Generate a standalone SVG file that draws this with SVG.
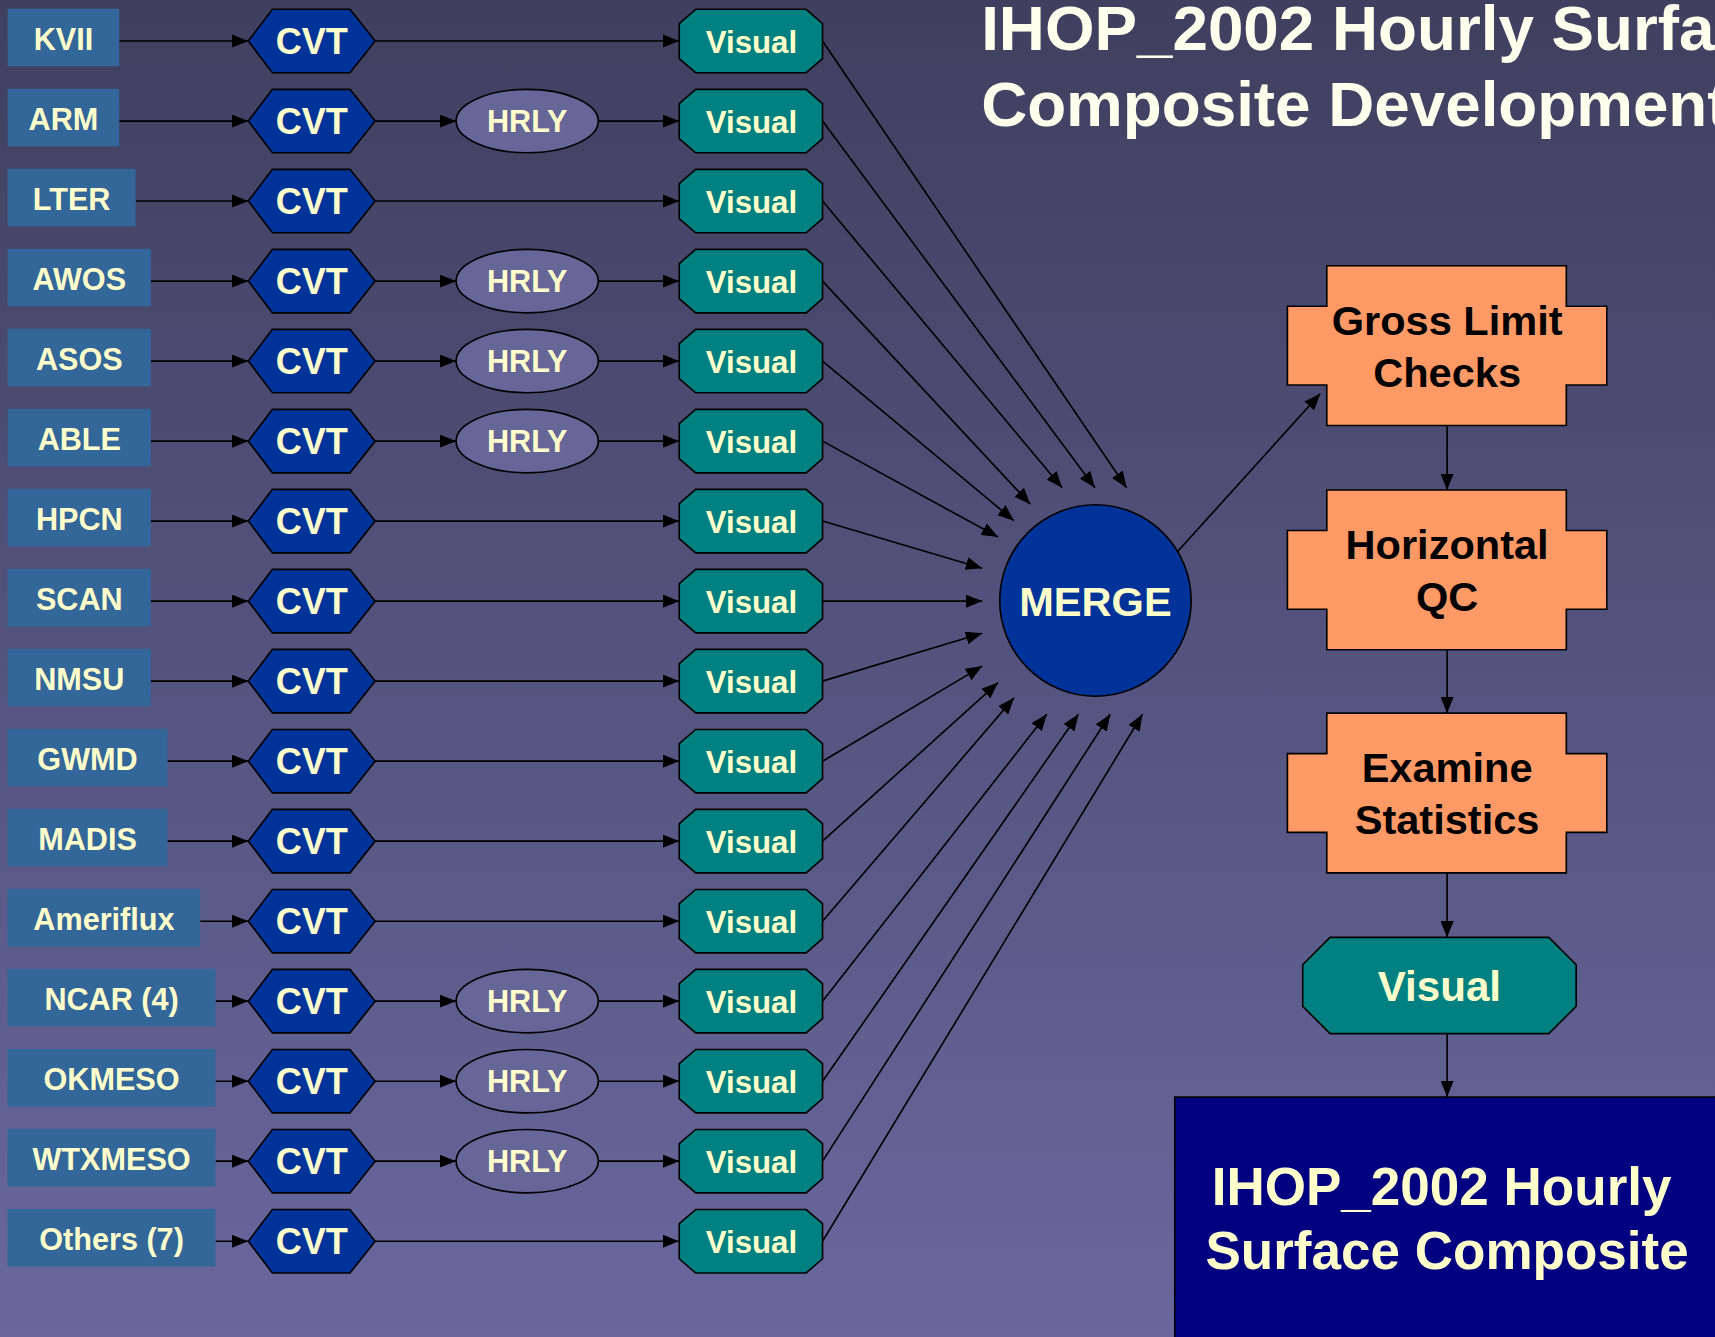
<svg xmlns="http://www.w3.org/2000/svg" width="1715" height="1337" viewBox="0 0 1715 1337">
<defs>
<linearGradient id="bg" x1="0" y1="0" x2="0" y2="1">
<stop offset="0" stop-color="#3f3f5f"/>
<stop offset="1" stop-color="#68689e"/>
</linearGradient>
<marker id="ah" markerUnits="userSpaceOnUse" markerWidth="15" markerHeight="12" refX="15" refY="6" orient="auto" viewBox="0 0 15 12">
<path d="M0,0 L15,6 L0,12 z" fill="#000"/>
</marker>
<polygon id="cvt" points="227,0 249,-29 320,-29 343,0 320,29 249,29"/>
<polygon id="vis" points="621,-16 636,-29 737,-29 752,-16 752,16 737,29 636,29 621,16"/>
<polygon id="cross" points="1213,243 1432,243 1432,280 1469,280 1469,352 1432,352 1432,389 1213,389 1213,352 1177,352 1177,280 1213,280"/>
</defs>
<style>
.t{font-family:"Liberation Sans",Arial,Helvetica,sans-serif;font-weight:bold;text-anchor:middle}
.src rect{fill:#336699}
.src text{fill:#ffffcc;font-size:28px}
.cvt use{fill:#003399;stroke:#000;stroke-width:1.5}
.cvt text{fill:#ffffcc;font-size:33px}
.hrly ellipse{fill:#666699;stroke:#000;stroke-width:1.5}
.hrly text{fill:#ffffcc;font-size:28px}
.vis use{fill:#008080;stroke:#000;stroke-width:1.5}
.vis text{fill:#ffffcc;font-size:28.5px}
.qc use{fill:#ff9966;stroke:#000;stroke-width:1.5}
.qc text{fill:#000;font-size:38px}
#connectors line{stroke:#000;stroke-width:1.5;marker-end:url(#ah)}
</style>
<rect x="0" y="0" width="1715" height="1337" fill="url(#bg)"/>
<g transform="scale(1.0938)">
<g id="title" class="t" style="text-anchor:start" fill="#ffffee" font-size="58.3">
<text x="897" y="46">IHOP_2002 Hourly Surface</text>
<text x="897" y="115">Composite Development</text>
</g>

<g id="connectors">
<line x1="109" y1="37.5" x2="227" y2="37.5"/>
<line x1="343" y1="37.5" x2="621" y2="37.5"/>
<line x1="752" y1="37.5" x2="1030" y2="446"/>

<line x1="109" y1="110.7" x2="227" y2="110.7"/>
<line x1="343" y1="110.7" x2="417" y2="110.7"/>
<line x1="547" y1="110.7" x2="621" y2="110.7"/>
<line x1="752" y1="110.7" x2="1001" y2="446"/>

<line x1="124" y1="183.8" x2="227" y2="183.8"/>
<line x1="343" y1="183.8" x2="621" y2="183.8"/>
<line x1="752" y1="183.8" x2="971" y2="446"/>

<line x1="138" y1="257" x2="227" y2="257"/>
<line x1="343" y1="257" x2="417" y2="257"/>
<line x1="547" y1="257" x2="621" y2="257"/>
<line x1="752" y1="257" x2="942" y2="461"/>

<line x1="138" y1="330.1" x2="227" y2="330.1"/>
<line x1="343" y1="330.1" x2="417" y2="330.1"/>
<line x1="547" y1="330.1" x2="621" y2="330.1"/>
<line x1="752" y1="330.1" x2="927" y2="476"/>

<line x1="138" y1="403.3" x2="227" y2="403.3"/>
<line x1="343" y1="403.3" x2="417" y2="403.3"/>
<line x1="547" y1="403.3" x2="621" y2="403.3"/>
<line x1="752" y1="403.3" x2="912.5" y2="491"/>

<line x1="138" y1="476.4" x2="227" y2="476.4"/>
<line x1="343" y1="476.4" x2="621" y2="476.4"/>
<line x1="752" y1="476.4" x2="898" y2="519.5"/>

<line x1="138" y1="549.6" x2="227" y2="549.6"/>
<line x1="343" y1="549.6" x2="621" y2="549.6"/>
<line x1="752" y1="549.6" x2="898" y2="549.6"/>

<line x1="138" y1="622.7" x2="227" y2="622.7"/>
<line x1="343" y1="622.7" x2="621" y2="622.7"/>
<line x1="752" y1="622.7" x2="898" y2="579"/>

<line x1="153" y1="695.9" x2="227" y2="695.9"/>
<line x1="343" y1="695.9" x2="621" y2="695.9"/>
<line x1="752" y1="695.9" x2="898" y2="609"/>

<line x1="153" y1="769" x2="227" y2="769"/>
<line x1="343" y1="769" x2="621" y2="769"/>
<line x1="752" y1="769" x2="912.5" y2="624"/>

<line x1="183" y1="842.2" x2="227" y2="842.2"/>
<line x1="343" y1="842.2" x2="621" y2="842.2"/>
<line x1="752" y1="842.2" x2="927" y2="638"/>

<line x1="197" y1="915.3" x2="227" y2="915.3"/>
<line x1="343" y1="915.3" x2="417" y2="915.3"/>
<line x1="547" y1="915.3" x2="621" y2="915.3"/>
<line x1="752" y1="915.3" x2="957" y2="653"/>

<line x1="197" y1="988.5" x2="227" y2="988.5"/>
<line x1="343" y1="988.5" x2="417" y2="988.5"/>
<line x1="547" y1="988.5" x2="621" y2="988.5"/>
<line x1="752" y1="988.5" x2="986" y2="653"/>

<line x1="197" y1="1061.6" x2="227" y2="1061.6"/>
<line x1="343" y1="1061.6" x2="417" y2="1061.6"/>
<line x1="547" y1="1061.6" x2="621" y2="1061.6"/>
<line x1="752" y1="1061.6" x2="1015" y2="653"/>

<line x1="197" y1="1134.8" x2="227" y2="1134.8"/>
<line x1="343" y1="1134.8" x2="621" y2="1134.8"/>
<line x1="752" y1="1134.8" x2="1044.5" y2="653"/>

<line x1="1075" y1="506" x2="1207" y2="360"/>
<line x1="1323" y1="389" x2="1323" y2="448"/>
<line x1="1323" y1="593" x2="1323" y2="652"/>
<line x1="1323" y1="798" x2="1323" y2="857"/>
<line x1="1323" y1="945" x2="1323" y2="1003"/>
</g>

<!-- sources -->
<g id="src-kvii" class="src t"><rect x="7" y="8" width="102" height="52.5"/><text x="58" y="45.5">KVII</text></g>
<g id="src-arm" class="src t"><rect x="7" y="81.2" width="102" height="52.5"/><text x="58" y="118.7">ARM</text></g>
<g id="src-lter" class="src t"><rect x="7" y="154.3" width="117" height="52.5"/><text x="65.5" y="191.8">LTER</text></g>
<g id="src-awos" class="src t"><rect x="7" y="227.5" width="131" height="52.5"/><text x="72.5" y="265">AWOS</text></g>
<g id="src-asos" class="src t"><rect x="7" y="300.6" width="131" height="52.5"/><text x="72.5" y="338.1">ASOS</text></g>
<g id="src-able" class="src t"><rect x="7" y="373.8" width="131" height="52.5"/><text x="72.5" y="411.3">ABLE</text></g>
<g id="src-hpcn" class="src t"><rect x="7" y="446.9" width="131" height="52.5"/><text x="72.5" y="484.4">HPCN</text></g>
<g id="src-scan" class="src t"><rect x="7" y="520.1" width="131" height="52.5"/><text x="72.5" y="557.6">SCAN</text></g>
<g id="src-nmsu" class="src t"><rect x="7" y="593.2" width="131" height="52.5"/><text x="72.5" y="630.7">NMSU</text></g>
<g id="src-gwmd" class="src t"><rect x="7" y="666.4" width="146" height="52.5"/><text x="80" y="703.9">GWMD</text></g>
<g id="src-madis" class="src t"><rect x="7" y="739.5" width="146" height="52.5"/><text x="80" y="777">MADIS</text></g>
<g id="src-ameriflux" class="src t"><rect x="7" y="812.7" width="176" height="52.5"/><text x="95" y="850.2">Ameriflux</text></g>
<g id="src-ncar" class="src t"><rect x="7" y="885.8" width="190" height="52.5"/><text x="102" y="923.3">NCAR (4)</text></g>
<g id="src-okmeso" class="src t"><rect x="7" y="959" width="190" height="52.5"/><text x="102" y="996.5">OKMESO</text></g>
<g id="src-wtxmeso" class="src t"><rect x="7" y="1032.1" width="190" height="52.5"/><text x="102" y="1069.6">WTXMESO</text></g>
<g id="src-others" class="src t"><rect x="7" y="1105.3" width="190" height="52.5"/><text x="102" y="1142.8">Others (7)</text></g>

<!-- CVT -->
<g id="cvt-1" class="cvt t" transform="translate(0,37.5)"><use href="#cvt"/><text x="285" y="12">CVT</text></g>
<g id="cvt-2" class="cvt t" transform="translate(0,110.7)"><use href="#cvt"/><text x="285" y="12">CVT</text></g>
<g id="cvt-3" class="cvt t" transform="translate(0,183.8)"><use href="#cvt"/><text x="285" y="12">CVT</text></g>
<g id="cvt-4" class="cvt t" transform="translate(0,257)"><use href="#cvt"/><text x="285" y="12">CVT</text></g>
<g id="cvt-5" class="cvt t" transform="translate(0,330.1)"><use href="#cvt"/><text x="285" y="12">CVT</text></g>
<g id="cvt-6" class="cvt t" transform="translate(0,403.3)"><use href="#cvt"/><text x="285" y="12">CVT</text></g>
<g id="cvt-7" class="cvt t" transform="translate(0,476.4)"><use href="#cvt"/><text x="285" y="12">CVT</text></g>
<g id="cvt-8" class="cvt t" transform="translate(0,549.6)"><use href="#cvt"/><text x="285" y="12">CVT</text></g>
<g id="cvt-9" class="cvt t" transform="translate(0,622.7)"><use href="#cvt"/><text x="285" y="12">CVT</text></g>
<g id="cvt-10" class="cvt t" transform="translate(0,695.9)"><use href="#cvt"/><text x="285" y="12">CVT</text></g>
<g id="cvt-11" class="cvt t" transform="translate(0,769)"><use href="#cvt"/><text x="285" y="12">CVT</text></g>
<g id="cvt-12" class="cvt t" transform="translate(0,842.2)"><use href="#cvt"/><text x="285" y="12">CVT</text></g>
<g id="cvt-13" class="cvt t" transform="translate(0,915.3)"><use href="#cvt"/><text x="285" y="12">CVT</text></g>
<g id="cvt-14" class="cvt t" transform="translate(0,988.5)"><use href="#cvt"/><text x="285" y="12">CVT</text></g>
<g id="cvt-15" class="cvt t" transform="translate(0,1061.6)"><use href="#cvt"/><text x="285" y="12">CVT</text></g>
<g id="cvt-16" class="cvt t" transform="translate(0,1134.8)"><use href="#cvt"/><text x="285" y="12">CVT</text></g>

<!-- HRLY -->
<g id="hrly-2" class="hrly t"><ellipse cx="482" cy="110.7" rx="65" ry="29"/><text x="482" y="121">HRLY</text></g>
<g id="hrly-4" class="hrly t"><ellipse cx="482" cy="257" rx="65" ry="29"/><text x="482" y="267.3">HRLY</text></g>
<g id="hrly-5" class="hrly t"><ellipse cx="482" cy="330.1" rx="65" ry="29"/><text x="482" y="340.4">HRLY</text></g>
<g id="hrly-6" class="hrly t"><ellipse cx="482" cy="403.3" rx="65" ry="29"/><text x="482" y="413.6">HRLY</text></g>
<g id="hrly-13" class="hrly t"><ellipse cx="482" cy="915.3" rx="65" ry="29"/><text x="482" y="925.6">HRLY</text></g>
<g id="hrly-14" class="hrly t"><ellipse cx="482" cy="988.5" rx="65" ry="29"/><text x="482" y="998.8">HRLY</text></g>
<g id="hrly-15" class="hrly t"><ellipse cx="482" cy="1061.6" rx="65" ry="29"/><text x="482" y="1071.9">HRLY</text></g>

<!-- Visual -->
<g id="vis-1" class="vis t" transform="translate(0,37.5)"><use href="#vis"/><text x="687" y="11">Visual</text></g>
<g id="vis-2" class="vis t" transform="translate(0,110.7)"><use href="#vis"/><text x="687" y="11">Visual</text></g>
<g id="vis-3" class="vis t" transform="translate(0,183.8)"><use href="#vis"/><text x="687" y="11">Visual</text></g>
<g id="vis-4" class="vis t" transform="translate(0,257)"><use href="#vis"/><text x="687" y="11">Visual</text></g>
<g id="vis-5" class="vis t" transform="translate(0,330.1)"><use href="#vis"/><text x="687" y="11">Visual</text></g>
<g id="vis-6" class="vis t" transform="translate(0,403.3)"><use href="#vis"/><text x="687" y="11">Visual</text></g>
<g id="vis-7" class="vis t" transform="translate(0,476.4)"><use href="#vis"/><text x="687" y="11">Visual</text></g>
<g id="vis-8" class="vis t" transform="translate(0,549.6)"><use href="#vis"/><text x="687" y="11">Visual</text></g>
<g id="vis-9" class="vis t" transform="translate(0,622.7)"><use href="#vis"/><text x="687" y="11">Visual</text></g>
<g id="vis-10" class="vis t" transform="translate(0,695.9)"><use href="#vis"/><text x="687" y="11">Visual</text></g>
<g id="vis-11" class="vis t" transform="translate(0,769)"><use href="#vis"/><text x="687" y="11">Visual</text></g>
<g id="vis-12" class="vis t" transform="translate(0,842.2)"><use href="#vis"/><text x="687" y="11">Visual</text></g>
<g id="vis-13" class="vis t" transform="translate(0,915.3)"><use href="#vis"/><text x="687" y="11">Visual</text></g>
<g id="vis-14" class="vis t" transform="translate(0,988.5)"><use href="#vis"/><text x="687" y="11">Visual</text></g>
<g id="vis-15" class="vis t" transform="translate(0,1061.6)"><use href="#vis"/><text x="687" y="11">Visual</text></g>
<g id="vis-16" class="vis t" transform="translate(0,1134.8)"><use href="#vis"/><text x="687" y="11">Visual</text></g>

<!-- MERGE -->
<g id="merge" class="t"><circle cx="1001.5" cy="549" r="87.5" fill="#003399" stroke="#000" stroke-width="1.5"/><text x="1001.5" y="563.5" fill="#ffffcc" font-size="38">MERGE</text></g>

<!-- QC chain -->
<g id="gross" class="qc t"><use href="#cross"/><text x="1323" y="306">Gross Limit</text><text x="1323" y="353.5">Checks</text></g>
<g id="horizontal" class="qc t" transform="translate(0,205)"><use href="#cross"/><text x="1323" y="306">Horizontal</text><text x="1323" y="353.5">QC</text></g>
<g id="examine" class="qc t" transform="translate(0,409)"><use href="#cross"/><text x="1323" y="306">Examine</text><text x="1323" y="353.5">Statistics</text></g>

<g id="visual-final" class="t"><polygon points="1191,882 1216,857 1416,857 1441,882 1441,920 1416,945 1216,945 1191,920" fill="#008080" stroke="#000" stroke-width="1.5"/><text x="1316" y="915.5" fill="#ffffcc" font-size="38.5">Visual</text></g>

<g id="composite" class="t"><rect x="1074" y="1003" width="520" height="240" fill="#000080" stroke="#000" stroke-width="1.5"/><text x="1318" y="1102" fill="#ffffcc" font-size="48.5">IHOP_2002 Hourly</text><text x="1323" y="1160" fill="#ffffcc" font-size="48.5">Surface Composite</text></g>
</g>
</svg>
